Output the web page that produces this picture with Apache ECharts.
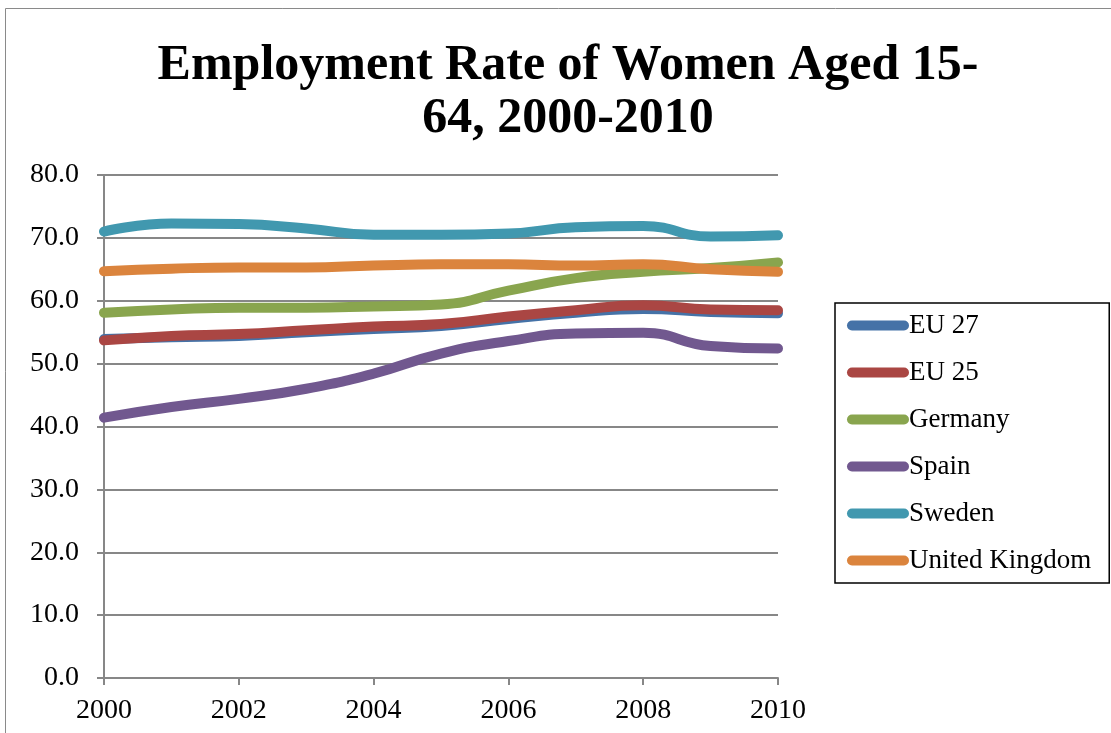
<!DOCTYPE html>
<html>
<head>
<meta charset="utf-8">
<script src="https://cdn.jsdelivr.net/npm/echarts@6/dist/echarts.min.js"></script>
<style>
  html, body { margin: 0; padding: 0; background: #fff; }
  #chart { width: 1111px; height: 733px; }
</style>
</head>
<body>
<div id="chart"></div>
<script>
// Female employment rate (%) aged 15-64, by year
const years = ['2000', '2001', '2002', '2003', '2004', '2005', '2006', '2007', '2008', '2009', '2010'];
const eu27    = [53.9, 54.2, 54.4, 55.0, 55.5, 56.0, 57.1, 58.1, 58.7, 58.2, 58.0];
const eu25    = [53.7, 54.4, 54.7, 55.3, 55.9, 56.3, 57.5, 58.5, 59.3, 58.6, 58.5];
const germany = [58.1, 58.6, 58.9, 58.9, 59.1, 59.4, 61.6, 63.6, 64.6, 65.2, 66.1];
const spain   = [41.4, 43.1, 44.4, 46.0, 48.4, 51.6, 53.6, 54.8, 54.9, 52.8, 52.4];
const sweden  = [71.0, 72.3, 72.2, 71.5, 70.5, 70.5, 70.7, 71.7, 71.9, 70.2, 70.4];
const uk      = [64.7, 65.1, 65.3, 65.3, 65.6, 65.8, 65.8, 65.6, 65.8, 65.0, 64.6];

const seriesNames  = ['EU 27', 'EU 25', 'Germany', 'Spain', 'Sweden', 'United Kingdom'];
const seriesData   = [eu27, eu25, germany, spain, sweden, uk];
const seriesColors = ['#4572A7', '#AA4643', '#89A54E', '#71588F', '#4198AF', '#DB843D'];

const FONT = '"Liberation Serif", "DejaVu Serif", serif';
const GRID_GRAY = '#878787';

const chart = echarts.init(document.getElementById('chart'), null, { renderer: 'canvas' });

chart.setOption({
  backgroundColor: '#ffffff',
  animation: false,
  graphic: [{
    type: 'rect',
    shape: { x: 5.5, y: 8.5, width: 1200, height: 800 },
    style: { fill: 'none', stroke: '#8a8a8a', lineWidth: 1 },
    silent: true
  }],
  title: {
    text: 'Employment Rate of Women Aged 15-\n64, 2000-2010',
    left: 568,
    top: 40,
    padding: 0,
    textAlign: 'center',
    textStyle: {
      fontFamily: FONT,
      fontWeight: 'bold',
      fontSize: 50,
      lineHeight: 53,
      color: '#000'
    }
  },
  legend: {
    orient: 'vertical',
    left: 835,
    top: 303,
    padding: [9, 18, 9, 12],
    itemWidth: 52,
    itemHeight: 26,
    itemGap: 20,
    borderColor: '#000',
    borderWidth: 1.5,
    data: seriesNames,
    itemStyle: { opacity: 0 },
    lineStyle: { width: 10, cap: 'round' },
    textStyle: { fontFamily: FONT, fontSize: 27, color: '#000' }
  },
  grid: { left: 104, right: 333, top: 175, bottom: 55, containLabel: false },
  xAxis: {
    type: 'category',
    data: years,
    boundaryGap: false,
    axisLine: { lineStyle: { color: GRID_GRAY, width: 2 } },
    axisTick: { show: true, interval: 1, length: 7, lineStyle: { color: GRID_GRAY, width: 2 } },
    axisLabel: {
      interval: 1,
      margin: 19,
      fontFamily: FONT,
      fontSize: 28,
      color: '#000'
    },
    splitLine: { show: false }
  },
  yAxis: {
    type: 'value',
    min: 0,
    max: 80,
    interval: 10,
    axisLine: { show: true, lineStyle: { color: GRID_GRAY, width: 2 } },
    axisTick: { show: true, length: 7, lineStyle: { color: GRID_GRAY, width: 2 } },
    axisLabel: {
      margin: 25,
      fontFamily: FONT,
      fontSize: 28,
      color: '#000',
      formatter: v => v.toFixed(1)
    },
    splitLine: { show: true, lineStyle: { color: GRID_GRAY, width: 2 } }
  },
  series: seriesNames.map((name, i) => ({
    name: name,
    type: 'line',
    data: seriesData[i],
    smooth: 0.5,
    showSymbol: false,
    symbol: 'none',
    color: seriesColors[i],
    lineStyle: { width: 10, color: seriesColors[i], cap: 'round', join: 'round' }
  }))
});
</script>
</body>
</html>
